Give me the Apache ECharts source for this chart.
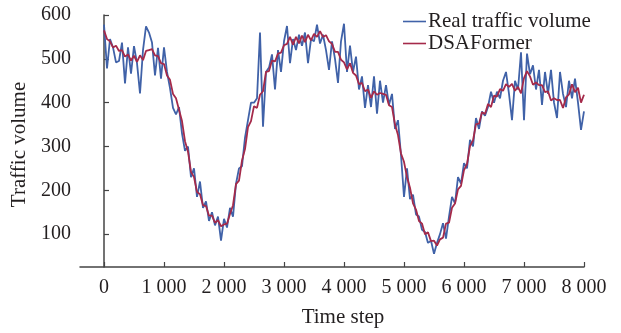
<!DOCTYPE html>
<html>
<head>
<meta charset="utf-8">
<script src="https://cdn.jsdelivr.net/npm/echarts@6/dist/echarts.min.js"></script>
<style>
  html, body { margin: 0; padding: 0; background: #fff; }
  #chart { width: 621px; height: 333px; }
</style>
</head>
<body>
<div id="chart"></div>
<script>
// one sample every 50 time steps, 0 .. 8000
const realVolume = [
  578, 478, 545, 526, 492, 495, 537, 444, 526, 466,
  529, 490, 421, 520, 574, 560, 537, 462, 525, 455,
  526, 470, 433, 388, 373, 390, 330, 290, 300, 230,
  250, 185, 220, 160, 175, 130, 150, 120, 140, 85,
  135, 115, 160, 140, 215, 250, 255, 320, 360, 400,
  400, 410, 560, 345, 470, 480, 510, 430, 520, 470,
  540, 575, 490, 545, 520, 555, 530, 560, 490, 545,
  540, 578, 535, 555, 520, 475, 540, 500, 445, 540,
  580, 470, 530, 470, 505, 430, 460, 388, 440, 390,
  460, 375, 450, 400, 440, 395, 420, 340, 360, 280,
  185, 250, 180, 190, 145, 140, 110, 105, 80, 85,
  55, 80, 100, 125, 90, 140, 185, 170, 230, 215,
  262, 250, 315, 300, 365, 340, 380, 370, 390, 425,
  400, 425, 410, 450, 470, 420, 360, 450, 430, 515,
  360, 512, 465, 485, 430, 475, 395, 470, 420, 475,
  400, 365, 470, 420, 390, 450, 410, 455, 400, 338,
  380
];
const predicted = [
  565, 545, 540, 526, 530, 518, 520, 505, 510, 496,
  507, 493, 508, 497, 518, 520, 522, 508, 506, 490,
  488, 462, 452, 420, 410, 384, 358, 312, 288, 242,
  230, 196, 191, 166, 164, 142, 142, 126, 132, 118,
  122, 124, 146, 166, 214, 222, 268, 294, 344, 358,
  392, 388, 418, 426, 470, 472, 496, 494, 512, 514,
  531, 534, 550, 532, 550, 535, 553, 538, 555, 542,
  557, 550, 563, 550, 554, 540, 534, 516, 516, 498,
  492, 476, 490, 468, 462, 442, 445, 426, 430, 411,
  426, 418, 422, 420, 418, 394, 390, 350, 326, 284,
  265, 230, 206, 170, 156, 130, 124, 100, 104, 84,
  85, 74, 88, 92, 124, 126, 160, 170, 202, 210,
  246, 260, 301, 314, 351, 352, 378, 374, 397, 390,
  416, 414, 431, 427, 442, 436, 443, 427, 436, 421,
  456, 472, 460, 441, 446, 440, 440, 424, 426, 405,
  410, 406, 406, 388, 412, 419, 442, 424, 434, 400,
  418
];
const timeSteps = realVolume.map((_, i) => i * 50);
const xTicks = [0, 1000, 2000, 3000, 4000, 5000, 6000, 7000, 8000];
const yTicks = [100, 200, 300, 400, 500, 600];

const font = 'Liberation Serif';
const ink = '#231f20';
const axisColor = '#444';

const chart = echarts.init(document.getElementById('chart'));
chart.setOption({
  animation: false,
  grid: { left: 80, right: 37, top: 15, bottom: 61 },
  legend: {
    orient: 'vertical',
    left: 398,
    top: 6,
    icon: 'rect',
    itemWidth: 23,
    itemHeight: 1.6,
    itemGap: 1,
    textStyle: { fontFamily: font, fontSize: 21, color: ink, padding: [0, 0, 0, -3] },
    data: ['Real traffic volume', 'DSAFormer']
  },
  xAxis: {
    type: 'value',
    min: -400,
    max: 8000,
    name: 'Time step',
    nameLocation: 'middle',
    nameGap: 40,
    nameTextStyle: { fontFamily: font, fontSize: 21, color: ink, padding: [0, 0, 0, 22] },
    axisLine: { lineStyle: { color: axisColor, width: 1.5 } },
    axisTick: { inside: true, length: 5, customValues: xTicks, lineStyle: { color: axisColor, width: 1.2 } },
    axisLabel: {
      customValues: xTicks,
      margin: 11,
      fontFamily: font,
      fontSize: 20,
      color: ink,
      formatter: v => String(v).replace(/(\d)(?=(\d{3})+$)/, '$1 ')
    },
    splitLine: { show: false }
  },
  yAxis: {
    type: 'value',
    min: 25,
    max: 600,
    name: 'Traffic volume',
    nameLocation: 'middle',
    nameGap: 46,
    nameTextStyle: { fontFamily: font, fontSize: 21, color: ink, padding: [0, 7, 0, 0] },
    axisLine: { show: true, lineStyle: { color: axisColor, width: 1.5 } },
    axisTick: { show: true, inside: true, length: 5, customValues: yTicks, lineStyle: { color: axisColor, width: 1.2 } },
    axisLabel: { customValues: yTicks, margin: 9, fontFamily: font, fontSize: 20, color: ink },
    splitLine: { show: false }
  },
  series: [
    {
      name: 'Real traffic volume',
      type: 'line',
      symbol: 'none',
      data: timeSteps.map((t, i) => [t, realVolume[i]]),
      lineStyle: { color: '#4062a8', width: 1.8 },
      itemStyle: { color: '#4062a8' }
    },
    {
      name: 'DSAFormer',
      type: 'line',
      symbol: 'none',
      data: timeSteps.map((t, i) => [t, predicted[i]]),
      lineStyle: { color: '#a52a4a', width: 1.8 },
      itemStyle: { color: '#a52a4a' }
    }
  ]
});
</script>
</body>
</html>
